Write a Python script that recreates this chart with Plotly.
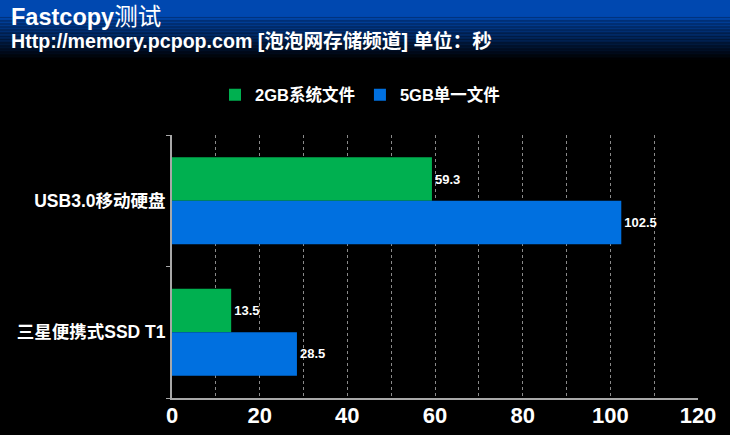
import plotly.graph_objects as go

categories = ["USB3.0移动硬盘", "三星便携式SSD T1"]
series_names = ["2GB系统文件", "5GB单一文件"]
values_2gb = [59.3, 13.5]
values_5gb = [102.5, 28.5]
x_ticks = [0, 20, 40, 60, 80, 100, 120]

W, H = 730, 435
L, R, T, B = 172, 32, 135, 37
PW, PH = W - L - R, H - T - B

FONT = "Liberation Sans, Arial, Noto Sans CJK SC, sans-serif"

fig = go.Figure()
fig.add_trace(go.Bar(
    y=categories, x=values_2gb, name=series_names[0], orientation="h",
    marker=dict(color="#00B050", line=dict(width=0)),
    text=[f"{v:.1f}" for v in values_2gb], textposition="outside",
    textfont=dict(color="white", size=13, family=FONT), cliponaxis=False,
))
fig.add_trace(go.Bar(
    y=categories, x=values_5gb, name=series_names[1], orientation="h",
    marker=dict(color="#0070E0", line=dict(width=0)),
    text=[f"{v:.1f}" for v in values_5gb], textposition="outside",
    textfont=dict(color="white", size=13, family=FONT), cliponaxis=False,
))

def py(p):
    return (H - B - p) / PH

def px(p):
    return (p - L) / PW

shapes = []
# header gradient (blue -> black)
n = 30
y0, y1 = 16, 60
shapes.append(dict(type="rect", xref="paper", yref="paper", x0=px(0), x1=px(W),
                   y0=py(y0), y1=py(0), fillcolor="rgb(0,72,176)", line=dict(width=0), layer="below"))
for i in range(n):
    a = y0 + (y1 - y0) * i / n
    b = y0 + (y1 - y0) * (i + 1) / n
    f = 1 - (i + 0.5) / n
    col = f"rgb(0,{int(72*f)},{int(176*f)})"
    shapes.append(dict(type="rect", xref="paper", yref="paper", x0=px(0), x1=px(W),
                       y0=py(b), y1=py(a), fillcolor=col, line=dict(width=0), layer="below"))

fig.update_layout(
    width=W, height=H,
    margin=dict(l=L, r=R, t=T, b=B, pad=0, autoexpand=False),
    paper_bgcolor="black", plot_bgcolor="black",
    barmode="group", bargap=0.34, bargroupgap=0,
    font=dict(family=FONT, color="white"),
    shapes=shapes,
    showlegend=True,
    legend=dict(orientation="h", xref="container", x=360 / W, xanchor="center",
                yref="container", y=1 - 95 / H, yanchor="middle",
                font=dict(size=16.5, color="white", family=FONT), traceorder="normal",
                itemwidth=30, bgcolor="rgba(0,0,0,0)"),
    xaxis=dict(range=[0, 120], tickvals=x_ticks, ticktext=[f"<b>{v}</b>" for v in x_ticks],
               showgrid=True, gridcolor="#8a8a8a", griddash="dot", gridwidth=1,
               minor=dict(dtick=10, showgrid=True, gridcolor="#8a8a8a", griddash="dot", gridwidth=1),
               showline=True, linecolor="#a8a8a8", linewidth=2, zeroline=False, automargin=False,
               ticks="", ticklen=0, ticklabelstandoff=-3,
               tickfont=dict(size=22, color="white", family=FONT)),
    yaxis=dict(autorange="reversed", showline=True, linecolor="#a8a8a8", linewidth=2,
               showgrid=False, zeroline=False, ticks="outside", ticklen=4, tickcolor="#a8a8a8",
               tickson="boundaries", tickfont=dict(size=17.5, color="white", family=FONT),
               tickvals=categories, ticktext=[f"<b>{c}</b>" for c in categories],
               ticklabelstandoff=1, automargin=False),
    annotations=[
        dict(text="<b>Fastcopy</b>测试", xref="paper", yref="paper", x=px(9), y=py(17),
             xanchor="left", yanchor="middle", showarrow=False,
             font=dict(size=23.5, color="white", family=FONT)),
        dict(text="<b>Http://memory.pcpop.com [泡泡网存储频道] 单位：秒</b>", xref="paper", yref="paper",
             x=px(9), y=py(41), xanchor="left", yanchor="middle", showarrow=False,
             font=dict(size=19.6, color="white", family=FONT)),
    ],
)
fig.update_traces(texttemplate="<b>%{text}</b>")
fig.for_each_trace(lambda t: t.update(name=f"<b>{t.name}</b>"))

fig.write_html("out.html", config={"displayModeBar": False},
               post_script="document.body.style.margin='0';document.body.style.overflow='hidden';")
